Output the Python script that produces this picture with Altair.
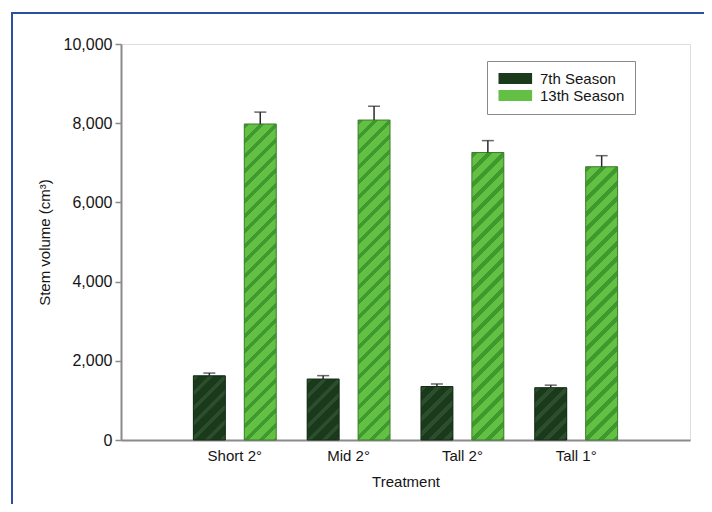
import altair as alt
import pandas as pd

# ---- data ----
treatments = ["Short 2°", "Mid 2°", "Tall 2°", "Tall 1°"]
seasons = ["7th Season", "13th Season"]
season7 = [1620, 1540, 1350, 1320]
season7_err = [70, 85, 65, 65]
season13 = [7980, 8080, 7260, 6900]
season13_err = [300, 350, 300, 280]
y_ticks = [0, 2000, 4000, 6000, 8000, 10000]

rows = []
for i, t in enumerate(treatments):
    rows.append({"treatment": t, "season": seasons[0], "value": season7[i], "err": season7_err[i]})
    rows.append({"treatment": t, "season": seasons[1], "value": season13[i], "err": season13_err[i]})
df = pd.DataFrame(rows)
df["upper"] = df["value"] + df["err"]

# ---- layout / style ----
W, H = 569, 396
YMAX = 10000
PI_X, PO_X = 0.272, 0.636
PI_O, PO_O = 0.373, 0.0
FONT = "Liberation Sans"
TXT = "#151515"
base_col = {"7th Season": "#1b3a1c", "13th Season": "#63c044"}
stripe_col = {"7th Season": "#2b4f2d", "13th Season": "#3f9a2e"}
edge_col = {"7th Season": "#142b15", "13th Season": "#3e7d2e"}

step = W / (len(treatments) - PI_X + 2 * PO_X)
band = step * (1 - PI_X)
ostep = band / (len(seasons) - PI_O + 2 * PO_O)
bar_w = ostep * (1 - PI_O)


def hatch(value, season, period=15.0, frac=0.38):
    w = bar_w
    h = max(value / YMAX * H, 1.0)
    D = w + h
    k = D / (w * w + h * h)
    p = period / D
    stops = []
    pos = 0.0
    b, s = base_col[season], stripe_col[season]
    while pos < 1.0:
        e = min(pos + p * frac, 1.0)
        stops.append({"offset": pos, "color": s})
        stops.append({"offset": e, "color": s})
        stops.append({"offset": e, "color": b})
        n = min(pos + p, 1.0)
        stops.append({"offset": n, "color": b})
        pos += p
    return {"gradient": "linear", "x1": 0, "y1": 0, "x2": k * w, "y2": k * h, "stops": stops}


x_enc = alt.X(
    "treatment:N",
    sort=treatments,
    scale=alt.Scale(paddingInner=PI_X, paddingOuter=PO_X),
    axis=alt.Axis(title="Treatment", labelAngle=0, ticks=False, labelPadding=8,
                  titlePadding=11, labelFontSize=15, titleFontSize=15,
                  labelFont=FONT, titleFont=FONT, labelColor=TXT, titleColor=TXT,
                  titleFontWeight="normal", domainColor="#8a8a8a", domainWidth=2),
)
xo_enc = alt.XOffset("season:N", sort=seasons, scale=alt.Scale(paddingInner=PI_O, paddingOuter=PO_O))
y_axis = alt.Axis(title="Stem volume (cm³)", labelExpr="format(datum.value, ',d')", values=y_ticks,
                  grid=False, tickSize=6, tickColor="#8a8a8a", tickWidth=1.5, labelPadding=3,
                  titlePadding=11, labelFontSize=16, titleFontSize=15,
                  labelFont=FONT, titleFont=FONT, labelColor=TXT, titleColor=TXT,
                  titleFontWeight="normal", domainColor="#8a8a8a", domainWidth=2)
y_scale = alt.Scale(domain=[0, YMAX], nice=False)


def y_of(field):
    return alt.Y(field, scale=y_scale, axis=y_axis)


base = alt.Chart(df)

bars = base.mark_bar(strokeWidth=1).encode(
    x=x_enc, xOffset=xo_enc, y=y_of("value:Q"),
    color=alt.Color("season:N", sort=seasons,
                    scale=alt.Scale(domain=seasons, range=[base_col[s] for s in seasons]),
                    legend=alt.Legend(title=None, orient="none", legendX=366, legendY=17,
                                      strokeColor="#8a8a8a", padding=10, fillColor="white",
                                      labelFont=FONT, labelFontSize=15, labelColor=TXT,
                                      symbolType="M-1,-0.9H4.6V0.9H-1Z", symbolSize=144,
                                      symbolStrokeWidth=0, symbolOpacity=1,
                                      labelOffset=28, rowPadding=1)),
)

layers = [bars]
for t in treatments:
    for s in seasons:
        v = float(df[(df.treatment == t) & (df.season == s)]["value"].iloc[0])
        layers.append(
            base.transform_filter((alt.datum.treatment == t) & (alt.datum.season == s))
            .mark_bar(fill=hatch(v, s), stroke=edge_col[s], strokeWidth=1)
            .encode(x=x_enc, xOffset=xo_enc, y=y_of("value:Q"))
        )

err_rule = base.mark_rule(color="#2a2a2a", strokeWidth=1.5).encode(
    x=x_enc, xOffset=xo_enc, y=y_of("value:Q"), y2="upper:Q")
err_cap = base.mark_tick(color="#2a2a2a", thickness=1.5, size=12).encode(
    x=x_enc, xOffset=xo_enc, y=y_of("upper:Q"))
layers += [err_rule, err_cap]

frame = alt.Chart(pd.DataFrame({"f": [0]})).mark_rect(
    fill="transparent", stroke="#2d4ea3", strokeWidth=2
).encode(x=alt.value(-109), x2=alt.value(586), y=alt.value(-31), y2=alt.value(490))
layers.append(frame)

chart = alt.layer(*layers).properties(
    width=W, height=H,
    autosize=alt.AutoSizeParams(type="none"),
    padding={"left": 113, "top": 36, "right": 14, "bottom": 64},
).configure_view(stroke="#8a8a8a", strokeWidth=2).configure(background="white")

chart.save("out.html", embed_options={"renderer": "svg", "actions": False})
